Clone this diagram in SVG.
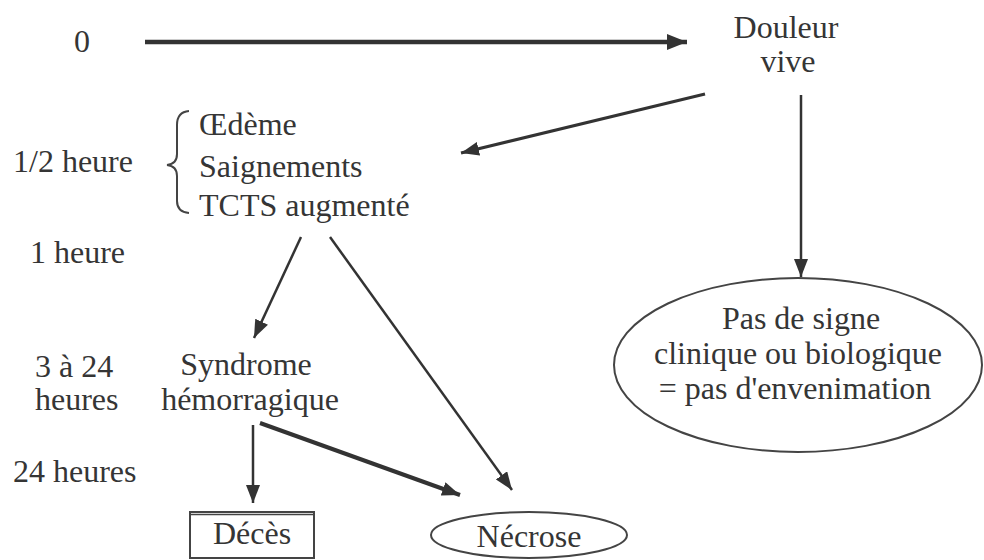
<svg xmlns="http://www.w3.org/2000/svg" width="984" height="560" viewBox="0 0 984 560">
<style>
  text { font-family: "Liberation Serif", "Times New Roman", serif; font-size: 32px; fill: #353535; }
  .mid { text-anchor: middle; }
  .edge { stroke: #333; fill: none; stroke-linecap: butt; }
  .shape { stroke: #444; fill: none; stroke-width: 2; }
</style>
<defs>
  <marker id="ah" viewBox="0 0 20 16" refX="20" refY="8" markerWidth="20" markerHeight="16" markerUnits="userSpaceOnUse" orient="auto">
    <path d="M0,0 L20,8 L0,16 z" fill="#333"/>
  </marker>
  <marker id="ahs" viewBox="0 0 18 14" refX="18" refY="7" markerWidth="18" markerHeight="14" markerUnits="userSpaceOnUse" orient="auto">
    <path d="M0,0 L18,7 L0,14 z" fill="#333"/>
  </marker>
</defs>
<rect width="984" height="560" fill="#fff"/>

<g id="timeline">
  <text x="82" y="52" class="mid">0</text>
  <text x="13" y="172">1/2 heure</text>
  <text x="30" y="263">1 heure</text>
  <text x="35" y="377">3 à 24</text>
  <text x="35" y="410">heures</text>
  <text x="13" y="482">24 heures</text>
</g>

<g id="douleur">
  <text x="786" y="38" class="mid" font-size="31">Douleur</text>
  <text x="788" y="72" class="mid" font-size="31">vive</text>
</g>

<g id="signes">
  <path class="shape" d="M189,111 Q177,112 177,125 L177,154 Q177,164 167,165 Q177,166 177,176 L177,201 Q177,212 189,213" stroke-width="2.5"/>
  <text x="199" y="135">Œdème</text>
  <text x="199" y="177">Saignements</text>
  <text x="199" y="216">TCTS augmenté</text>
</g>

<g id="pas-envenimation">
  <ellipse class="shape" cx="798" cy="365" rx="184" ry="87"/>
  <text x="801" y="329" class="mid">Pas de signe</text>
  <text x="798" y="364" class="mid">clinique ou biologique</text>
  <text x="795" y="399" class="mid">= pas d'envenimation</text>
</g>

<g id="syndrome">
  <text x="246" y="375" class="mid">Syndrome</text>
  <text x="250" y="410" class="mid">hémorragique</text>
</g>

<g id="deces">
  <rect class="shape" x="190" y="512" width="124" height="46"/>
  <line x1="190" y1="514.5" x2="314" y2="514.5" stroke="#444" stroke-width="1.5"/>
  <text x="252" y="544" class="mid">Décès</text>
</g>

<g id="necrose">
  <ellipse class="shape" cx="529" cy="535" rx="98" ry="23"/>
  <text x="529" y="547" class="mid">Nécrose</text>
</g>

<g id="connectors">
  <line class="edge" x1="145" y1="42" x2="687" y2="42" stroke-width="4.5" marker-end="url(#ah)"/>
  <line class="edge" x1="705" y1="94" x2="461" y2="153" stroke-width="3" marker-end="url(#ahs)"/>
  <line class="edge" x1="801" y1="95" x2="801" y2="277" stroke-width="2.5" marker-end="url(#ahs)"/>
  <line class="edge" x1="301" y1="237" x2="254" y2="338" stroke-width="2.5" marker-end="url(#ahs)"/>
  <line class="edge" x1="330" y1="237" x2="512" y2="490" stroke-width="2.5" marker-end="url(#ahs)"/>
  <line class="edge" x1="260" y1="423" x2="460" y2="495" stroke-width="4" marker-end="url(#ahs)"/>
  <line class="edge" x1="253" y1="425" x2="253" y2="503" stroke-width="2.5" marker-end="url(#ahs)"/>
</g>
</svg>
